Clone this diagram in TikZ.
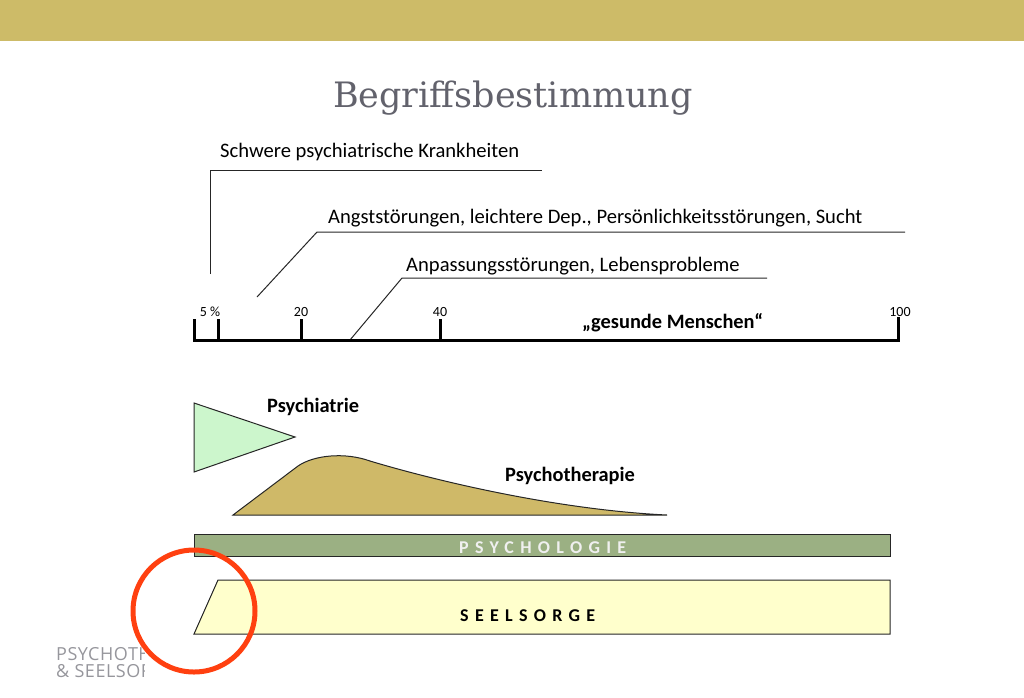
\documentclass[tikz,border=0pt]{standalone}
\usepackage{fontspec}
\setmainfont{Carlito}
\newfontfamily\titlefont{DejaVu Serif}
\newfontfamily\spacedfont[LetterSpace=35]{Carlito}
\newfontfamily\logofont[LetterSpace=3]{Open Sans}
\definecolor{topgold}{RGB}{205,187,104}
\definecolor{titlegray}{RGB}{98,98,108}
\definecolor{psychiagreen}{RGB}{204,246,204}
\definecolor{therapygold}{RGB}{207,185,104}
\definecolor{psychogreen}{RGB}{155,176,131}
\definecolor{seelyellow}{RGB}{255,255,204}
\definecolor{ringred}{RGB}{255,64,16}
\definecolor{logogray}{RGB}{150,150,156}
\begin{document}
\begin{tikzpicture}[x=1pt,y=-1pt,
    lbl/.style={anchor=base west,inner sep=0pt,font=\fontsize{20.6}{24}\selectfont},
    boldlbl/.style={anchor=base west,inner sep=0pt,font=\fontsize{20.4}{24}\selectfont\bfseries},
    num/.style={anchor=base,inner sep=0pt,font=\fontsize{14}{16}\selectfont},
    spaced/.style={anchor=base west,inner sep=0pt,font=\fontsize{18}{20}\spacedfont\bfseries},
    logo/.style={anchor=base west,inner sep=0pt,text=logogray,font=\fontsize{18}{20}\logofont},
    leader/.style={line width=1pt,draw=black!85},
    axisline/.style={line width=3pt,line join=miter},
    outline/.style={draw=black!85,line width=1pt}]
        \useasboundingbox (0,0) rectangle (1024,697);
        \fill[topgold] (0,0) rectangle (1024,41);
        \node[anchor=base,inner sep=0pt,text=titlegray,font=\fontsize{35}{40}\titlefont] (title) at (513,107) {Begriffsbestimmung};

        \node[lbl] (schwer) at (220,157) {Schwere psychiatrische Krankheiten};
        \node[lbl] (angst) at (328,223) {Angststörungen, leichtere Dep., Persönlichkeitsstörungen, Sucht};
        \node[lbl] (anpass) at (406,271) {Anpassungsstörungen, Lebensprobleme};
        \draw[leader] (210,274) -- (210,170) -- (542,170);
        \draw[leader] (257,297) -- (317,232) -- (905,232);
        \draw[leader] (350,340) -- (402,278) -- (767,278);

        \draw[axisline] (194,319) -- (194,340) -- (898,340) -- (898,317);
        \draw[axisline] (218,319) -- (218,340);
        \draw[axisline] (301,319) -- (301,340);
        \draw[axisline] (440,319) -- (440,340);
        \node[num] (pct5) at (210,316) {5 \%};
        \node[num] (n20) at (301,316) {20};
        \node[num] (n40) at (440,316) {40};
        \node[num] (n100) at (900,316) {100};
        \node[boldlbl] (gesund) at (582,328) {„gesunde Menschen“};

        \filldraw[fill=psychiagreen,outline] (194,403) -- (295,437) -- (194,472) -- cycle;
        \node[boldlbl] (psychiatrie) at (267,412) {Psychiatrie};
        \filldraw[fill=therapygold,outline] (233,515) -- (298,466) .. controls (314,455) and (345,452) .. (370,461) .. controls (440,482) and (560,510) .. (667,515) -- cycle;
        \node[boldlbl] (psychotherapie) at (505,481) {Psychotherapie};

        \filldraw[fill=psychogreen,outline] (194,534) rectangle (890,556);
        \node[spaced,text=white!94!black] (psychologie) at (459,553) {PSYCHOLOGIE};
        \filldraw[fill=seelyellow,outline] (218,580) -- (890,580) -- (890,634) -- (194,634) -- cycle;
        \node[spaced] (seelsorge) at (460,621) {SEELSORGE};

        \begin{scope}
        \clip (40,630) rectangle (144,690);
        \node[logo] (logoa) at (56,660) {PSYCHOTHERAPIE};
        \node[logo] (logob) at (56,677) {\& SEELSORGE};
        \end{scope}
        \draw[ringred,line width=5pt] (194,611) circle (61pt);
      \end{tikzpicture}
\end{document}
